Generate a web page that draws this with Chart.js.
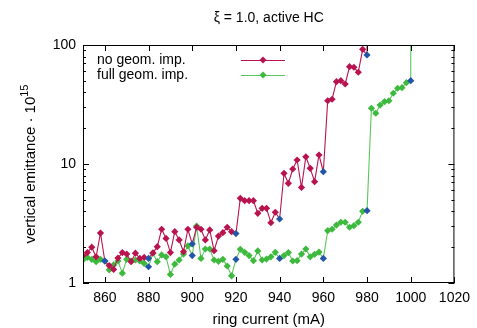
<!DOCTYPE html>
<html>
<head>
<meta charset="utf-8">
<script src="https://cdn.jsdelivr.net/npm/chart.js@4.4.1/dist/chart.umd.min.js"></script>
<style>
  html, body { margin: 0; padding: 0; background: #fff; }
  #wrap { width: 477px; height: 328px; }
</style>
</head>
<body>
<div id="wrap"><canvas id="myChart"></canvas></div>
<script>
// ring current (mA) for each run
const currentNoImp = [850, 852, 854, 856, 858, 860, 862, 864, 866, 868, 870, 872, 874, 876, 878, 880,
    882, 884, 886, 888, 890, 892, 894, 896, 898, 900, 902, 904, 906, 908, 910, 912, 914, 916, 918, 920,
    922, 924, 926, 928, 930, 932, 934, 936, 938, 940, 942, 944, 946, 948, 950, 952, 954, 956, 958, 960,
    962, 964, 966, 968, 970, 972, 974, 976, 978, 980, 980];
const emitNoImp = [1.70, 1.80, 2.00, 1.66, 2.63, 1.53, 1.40, 1.30, 1.62, 1.80, 1.75, 1.51, 1.78, 1.61, 1.64, 1.61,
    1.79, 2.02, 2.83, 2.37, 1.80, 2.70, 2.30, 1.83, 2.83, 2.13, 2.94, 2.83, 2.30, 2.79, 1.87, 2.48, 2.65, 2.94, 2.70, 2.60,
    5.15, 4.92, 4.92, 4.92, 3.85, 4.24, 4.24, 3.21, 3.93, 3.45, 8.35, 6.88, 9.08, 10.8, 6.35, 11.5, 9.2, 7.1, 11.9, 8.62,
    34.0, 35.0, 49.2, 50.1, 47.0, 65.7, 65.0, 59.0, 92.0, 82.4, 300];

const currentFullImp = [850, 852, 854, 856, 858, 860, 862, 864, 866, 868, 870, 872, 874, 876, 878, 880,
    882, 884, 886, 888, 890, 892, 894, 896, 898, 900, 902, 904, 906, 908, 910, 912, 914, 916, 918, 920,
    922, 924, 926, 928, 930, 932, 934, 936, 938, 940, 942, 944, 946, 948, 950, 952, 954, 956, 958, 960,
    962, 964, 966, 968, 970, 972, 974, 976, 978, 980, 982, 984, 986, 988, 990, 992, 994, 996, 998, 1000, 1000];
const emitFullImp = [1.56, 1.64, 1.58, 1.51, 1.58, 1.53, 1.29, 1.42, 1.53, 1.21, 1.58, 1.53, 1.56, 1.53, 1.46, 1.37,
    1.78, 1.51, 1.72, 1.66, 1.18, 1.44, 1.56, 1.75, 2.05, 1.70, 3.01, 1.61, 1.93, 1.93, 1.56, 1.52, 1.58, 1.39, 1.15, 1.58,
    1.92, 1.81, 1.70, 1.54, 1.86, 1.56, 1.59, 1.66, 1.81, 1.61, 1.70, 1.80, 1.53, 1.54, 1.75, 1.93, 1.66, 1.74, 1.82, 1.61,
    2.75, 2.83, 3.07, 3.24, 3.24, 2.94, 3.03, 3.24, 4.01, 4.05, 29.4, 26.7, 31.3, 33.4, 34.0, 39.3, 43.3, 43.8, 48.2, 50.1, 300];

const xTicks = [860, 880, 900, 920, 940, 960, 980, 1000, 1020];
const yTicks = [1, 10, 100];
const seriesLabels = ['no geom. imp.', 'full geom. imp.'];

const RED = '#b8134f';
const GREEN = '#3dba3d';
const GREEN_LINE = '#5cc65c';
const BLUE = '#2356a8';
const FONT = '"Liberation Sans", Arial, sans-serif';

const toPoints = (xs, ys) => xs.map((x, i) => ({ x: x, y: ys[i] }));
// every 20 mA the marker is blue
const markerColor = (base) => (c) => (c.raw && c.raw.x % 20 === 0) ? BLUE : base;

const gnuplotFrame = {
    id: 'gnuplotFrame',
    afterDraw(chart) {
        const { ctx, chartArea: a, scales } = chart;
        const xs = scales.x, ys = scales.y;
        ctx.save();
        ctx.strokeStyle = '#000';
        ctx.lineWidth = 1;
        ctx.strokeRect(a.left + 0.5, a.top + 0.5, a.right - a.left - 1, a.bottom - a.top - 1);

        ctx.beginPath();
        xTicks.forEach(v => {
            const px = Math.round(xs.getPixelForValue(v)) + 0.5;
            ctx.moveTo(px, a.bottom); ctx.lineTo(px, a.bottom - 6);
            ctx.moveTo(px, a.top); ctx.lineTo(px, a.top + 6);
        });
        [1, 10].forEach(dec => {
            for (let m = 1; m <= 9; m++) {
                const v = dec * m;
                const py = Math.round(ys.getPixelForValue(v)) + 0.5;
                const len = m === 1 ? 6 : 3;
                ctx.moveTo(a.left, py); ctx.lineTo(a.left + len, py);
                ctx.moveTo(a.right, py); ctx.lineTo(a.right - len, py);
            }
        });
        ctx.stroke();

        // title
        ctx.fillStyle = '#000';
        ctx.font = '14px ' + FONT;
        ctx.textAlign = 'center';
        ctx.textBaseline = 'middle';
        ctx.fillText('\u03be = 1.0, active HC', (a.left + a.right) / 2, 18);

        // x axis title
        ctx.font = '15px ' + FONT;
        ctx.fillText('ring current (mA)', (a.left + a.right) / 2, 320);

        // y axis title with superscript
        ctx.save();
        ctx.translate(31, (a.top + a.bottom) / 2);
        ctx.rotate(-Math.PI / 2);
        const main = 'vertical emittance \u00b7 10';
        ctx.font = '15px ' + FONT;
        const w1 = ctx.measureText(main).width;
        ctx.font = '11px ' + FONT;
        const w2 = ctx.measureText('15').width;
        const start = -(w1 + w2) / 2;
        ctx.textAlign = 'left';
        ctx.font = '15px ' + FONT;
        ctx.fillText(main, start, 0);
        ctx.font = '11px ' + FONT;
        ctx.fillText('15', start + w1, -6);
        ctx.restore();

        // legend
        chart.data.datasets.forEach((ds, i) => {
            const y = 60 + i * 15;
            ctx.font = '14px ' + FONT;
            ctx.textAlign = 'left';
            ctx.fillStyle = '#000';
            ctx.fillText(ds.label, 97, y);
            ctx.strokeStyle = ds.borderColor;
            ctx.lineWidth = 1.2;
            ctx.beginPath();
            ctx.moveTo(241, y + 0.5); ctx.lineTo(285, y + 0.5);
            ctx.stroke();
            ctx.fillStyle = ds.legendMarker;
            ctx.beginPath();
            ctx.moveTo(263, y - 3.5); ctx.lineTo(266.5, y); ctx.lineTo(263, y + 3.5); ctx.lineTo(259.5, y);
            ctx.closePath();
            ctx.fill();
        });
        ctx.restore();
    }
};

new Chart(document.getElementById('myChart'), {
    type: 'line',
    data: {
        datasets: [{
            label: seriesLabels[0],
            data: toPoints(currentNoImp, emitNoImp),
            borderColor: RED,
            borderWidth: 1.1,
            legendMarker: RED,
            pointStyle: 'rectRot',
            pointRadius: 3.6,
            pointBorderWidth: 0,
            pointBackgroundColor: markerColor(RED),
            tension: 0
        }, {
            label: seriesLabels[1],
            data: toPoints(currentFullImp, emitFullImp),
            borderColor: GREEN_LINE,
            borderWidth: 1.1,
            legendMarker: GREEN,
            pointStyle: 'rectRot',
            pointRadius: 3.6,
            pointBorderWidth: 0,
            pointBackgroundColor: markerColor(GREEN),
            tension: 0
        }]
    },
    options: {
        responsive: true,
        maintainAspectRatio: false,
        animation: false,
        layout: { padding: { top: 45, right: 20, left: 0, bottom: 0 } },
        scales: {
            x: {
                type: 'linear',
                min: 850,
                max: 1020,
                afterBuildTicks: s => { s.ticks = xTicks.map(v => ({ value: v })); },
                afterFit: s => { s.height = 45; },
                grid: { display: false, drawTicks: false },
                border: { display: false },
                ticks: { color: '#000', font: { family: FONT, size: 14 }, padding: 7, maxRotation: 0, callback: v => String(v) }
            },
            y: {
                type: 'logarithmic',
                min: 1,
                max: 100,
                afterBuildTicks: s => { s.ticks = yTicks.map(v => ({ value: v })); },
                afterFit: s => { s.width = 83; },
                grid: { display: false, drawTicks: false },
                border: { display: false },
                ticks: { color: '#000', font: { family: FONT, size: 14 }, padding: 7, callback: v => String(v) }
            }
        },
        plugins: {
            legend: { display: false },
            tooltip: { enabled: false }
        }
    },
    plugins: [gnuplotFrame]
});
</script>
</body>
</html>
